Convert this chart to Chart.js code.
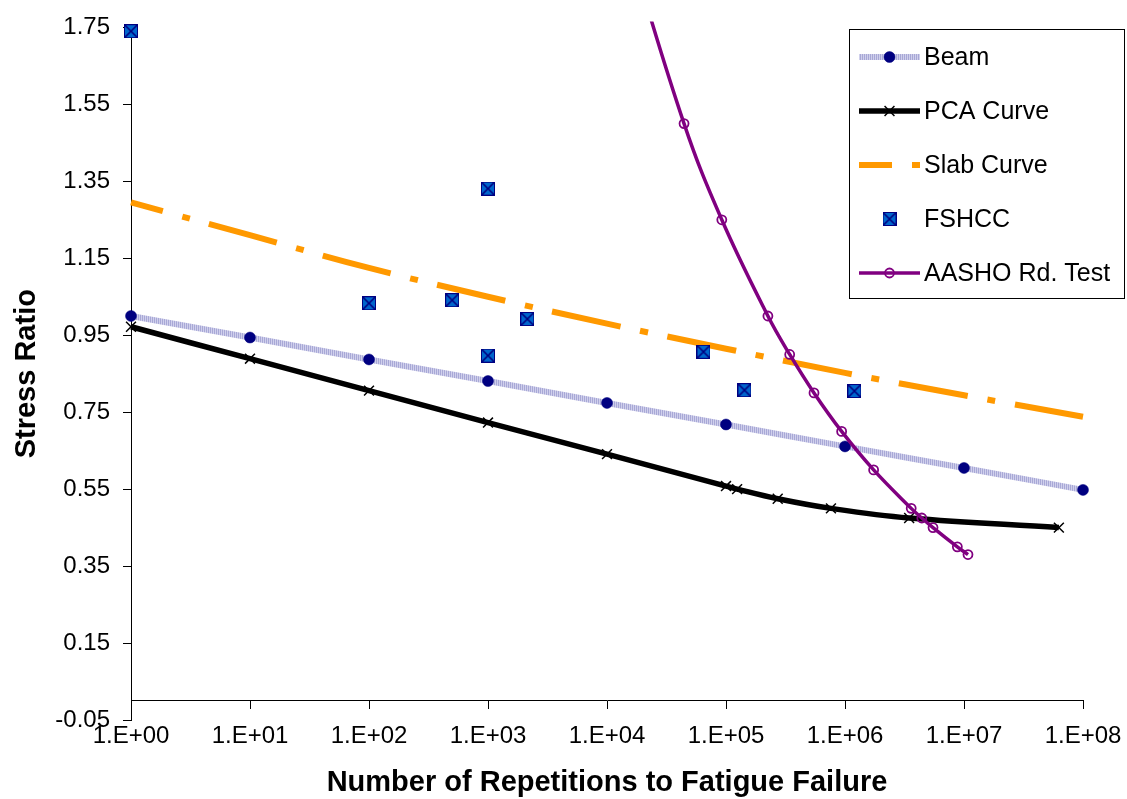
<!DOCTYPE html>
<html>
<head>
<meta charset="utf-8">
<title>Stress Ratio vs Repetitions</title>
<script src="https://cdn.jsdelivr.net/npm/chart.js@4.4.1/dist/chart.umd.min.js"></script>
<style>
  html, body { margin: 0; padding: 0; background: #fff; }
  canvas { display: block; }
</style>
</head>
<body>
<canvas id="fatigueChart" width="1127" height="799"></canvas>
<script>
// Fatigue curves: stress ratio vs. number of load repetitions (log scale)

const xTicks = [1, 10, 100, 1e3, 1e4, 1e5, 1e6, 1e7, 1e8];

const beamN = [1, 10, 100, 1e3, 1e4, 1e5, 1e6, 1e7, 1e8];
const beamSR = [1.0, 0.944, 0.887, 0.831, 0.774, 0.718, 0.661, 0.605, 0.548];

const pcaN = [1, 10, 100, 1e3, 1e4, 1e5, 124000, 272000, 762000, 3460000, 62700000];
const pcaSR = [0.972, 0.889, 0.806, 0.723, 0.641, 0.558, 0.55, 0.525, 0.50, 0.475, 0.45];

const slabN = [1, 10, 100, 1e3, 1e4, 1e5, 1e6, 1e7, 1e8];
const slabSR = [1.295, 1.21, 1.125, 1.05, 0.98, 0.915, 0.852, 0.794, 0.738];

const fshccN = [1, 100, 500, 1000, 1000, 2140, 64700, 143000, 1200000];
const fshccSR = [1.74, 1.033, 1.041, 1.331, 0.897, 0.992, 0.907, 0.807, 0.805];

const aashoN = [14000, 44400, 92200, 225000, 343000, 549000, 937000, 1740000, 3600000, 4420000, 5490000, 8790000, 10800000];
const aashoSR = [2.0, 1.5, 1.25, 1.0, 0.9, 0.8, 0.7, 0.6, 0.5, 0.475, 0.45, 0.4, 0.38];

const toPoints = (xs, ys) => xs.map((x, i) => ({ x: x, y: ys[i] }));

Chart.defaults.font.family = "'Liberation Sans', Arial, sans-serif";
Chart.defaults.color = '#000';

// hatched lavender stroke for the beam line
function makeBeamPattern() {
  const pc = document.createElement('canvas');
  pc.width = 2; pc.height = 1;
  const g = pc.getContext('2d');
  g.fillStyle = '#A8A8D6'; g.fillRect(0, 0, 1, 1);
  g.fillStyle = '#D0D0EC'; g.fillRect(1, 0, 1, 1);
  return g.createPattern(pc, 'repeat');
}

// blue square with navy X for FSHCC
function makeBoxCross() {
  const c = document.createElement('canvas');
  c.width = 14; c.height = 14;
  const g = c.getContext('2d');
  g.fillStyle = '#0066CC';
  g.fillRect(0, 0, 14, 14);
  g.strokeStyle = '#000080';
  g.lineWidth = 1;
  g.strokeRect(0.5, 0.5, 13, 13);
  g.lineWidth = 1.6;
  g.beginPath();
  g.moveTo(1, 1); g.lineTo(13, 13);
  g.moveTo(13, 1); g.lineTo(1, 13);
  g.stroke();
  return c;
}

const beamPattern = makeBeamPattern();
const boxCross = makeBoxCross();

// Legend box drawn inside plot, Excel style
const legendBoxPlugin = {
  id: 'legendBox',
  afterDraw(chart) {
    const ctx = chart.ctx;
    const left = 849, top = 29, w = 276, h = 270;
    ctx.save();
    ctx.fillStyle = '#fff';
    ctx.fillRect(left, top, w, h);
    ctx.strokeStyle = '#000';
    ctx.lineWidth = 1;
    ctx.strokeRect(left + 0.5, top + 0.5, w - 1, h - 1);

    chart.data.datasets.forEach((ds, i) => {
      const cy = 57 + i * 54;
      const x0 = 859, x1 = 920, cx = 889.5;
      if (ds.showLine !== false) {
        ctx.beginPath();
        ctx.setLineDash(ds.borderDash || []);
        ctx.lineDashOffset = ds.borderDashOffset || 0;
        ctx.strokeStyle = ds.borderColor;
        ctx.lineWidth = ds.borderWidth;
        ctx.moveTo(x0, cy);
        ctx.lineTo(x1, cy);
        ctx.stroke();
        ctx.setLineDash([]);
      }
      if (ds.pointRadius > 0) {
        const r = ds.pointRadius;
        ctx.lineWidth = ds.pointBorderWidth;
        ctx.strokeStyle = ds.pointBorderColor;
        ctx.fillStyle = ds.pointBackgroundColor;
        if (ds.pointStyle === 'circle') {
          ctx.beginPath();
          ctx.arc(cx, cy, r, 0, Math.PI * 2);
          ctx.fill();
          ctx.stroke();
        } else if (ds.pointStyle === 'crossRot') {
          const d = r * Math.cos(Math.PI / 4);
          ctx.beginPath();
          ctx.moveTo(cx - d, cy - d); ctx.lineTo(cx + d, cy + d);
          ctx.moveTo(cx + d, cy - d); ctx.lineTo(cx - d, cy + d);
          ctx.stroke();
        } else if (ds.pointStyle instanceof HTMLCanvasElement) {
          ctx.drawImage(ds.pointStyle, cx - 7, cy - 7);
        }
      }
      ctx.fillStyle = '#000';
      ctx.font = "25px 'Liberation Sans', Arial, sans-serif";
      ctx.textAlign = 'left';
      ctx.textBaseline = 'middle';
      ctx.fillText(ds.label, 924, cy + 1);
    });
    ctx.restore();
  }
};

new Chart(document.getElementById('fatigueChart'), {
  type: 'line',
  data: {
    datasets: [
      {
        label: 'Beam',
        data: toPoints(beamN, beamSR),
        borderColor: beamPattern,
        borderWidth: 6,
        tension: 0.3,
        pointStyle: 'circle',
        pointRadius: 5.5,
        pointBorderWidth: 0.5,
        pointBorderColor: '#000080',
        pointBackgroundColor: '#000080',
        clip: false,
        order: 5
      },
      {
        label: 'PCA Curve',
        data: toPoints(pcaN, pcaSR),
        borderColor: '#000',
        borderWidth: 5.5,
        tension: 0.4,
        pointStyle: 'crossRot',
        pointRadius: 7,
        pointBorderWidth: 1.5,
        pointBorderColor: '#000',
        pointBackgroundColor: '#000',
        clip: false,
        order: 4
      },
      {
        label: 'Slab Curve',
        data: toPoints(slabN, slabSR),
        borderColor: '#FF9900',
        borderWidth: 6,
        borderDash: [70, 20, 8, 20],
        borderDashOffset: 37,
        tension: 0.4,
        pointRadius: 0,
        clip: false,
        order: 3
      },
      {
        label: 'FSHCC',
        data: toPoints(fshccN, fshccSR),
        showLine: false,
        pointStyle: boxCross,
        pointRadius: 7,
        pointBorderWidth: 0,
        pointBorderColor: '#000080',
        pointBackgroundColor: '#0066CC',
        clip: false,
        order: 2
      },
      {
        label: 'AASHO Rd. Test',
        data: toPoints(aashoN, aashoSR),
        borderColor: '#800080',
        borderWidth: 3.5,
        tension: 0.4,
        pointStyle: 'circle',
        pointRadius: 4.5,
        pointBorderWidth: 1.8,
        pointBorderColor: '#800080',
        pointBackgroundColor: 'rgba(255,255,255,0)',
        clip: { left: 5, top: 6, right: 5, bottom: 5 },
        order: 1
      }
    ]
  },
  options: {
    responsive: false,
    animation: false,
    devicePixelRatio: 1,
    layout: { padding: { top: 19, right: 44, left: 0, bottom: 79 } },
    plugins: {
      legend: { display: false },
      tooltip: { enabled: false }
    },
    scales: {
      x: {
        type: 'logarithmic',
        min: 1,
        max: 1e8,
        position: { y: 0 },
        afterFit: (s) => {
          s.height = 79;
          s.paddingLeft = 0;
          s.paddingRight = 0;
        },
        afterBuildTicks: (s) => { s.ticks = xTicks.map(v => ({ value: v })); },
        grid: { drawOnChartArea: false, color: '#000', tickLength: 8 },
        border: { color: '#000', width: 1 },
        ticks: {
          font: { size: 24 },
          padding: 13,
          maxRotation: 0,
          autoSkip: false,
          callback: (v) => '1.E+' + String(Math.round(Math.log10(v))).padStart(2, '0')
        },
        title: {
          display: true,
          text: 'Number of Repetitions to Fatigue Failure',
          font: { size: 29, weight: 'bold' },
          padding: { top: 0, bottom: -21 }
        }
      },
      y: {
        min: -0.05,
        max: 1.75,
        position: 'left',
        afterFit: (s) => { s.width = 131; },
        grid: { drawOnChartArea: false, color: '#000', tickLength: 8 },
        border: { color: '#000', width: 1 },
        ticks: {
          stepSize: 0.2,
          font: { size: 24 },
          padding: 13,
          callback: (v) => v.toFixed(2)
        },
        title: {
          display: true,
          text: 'Stress Ratio',
          font: { size: 29, weight: 'bold' },
          padding: { top: 10, bottom: 0 }
        }
      }
    }
  },
  plugins: [legendBoxPlugin]
});
</script>
</body>
</html>
